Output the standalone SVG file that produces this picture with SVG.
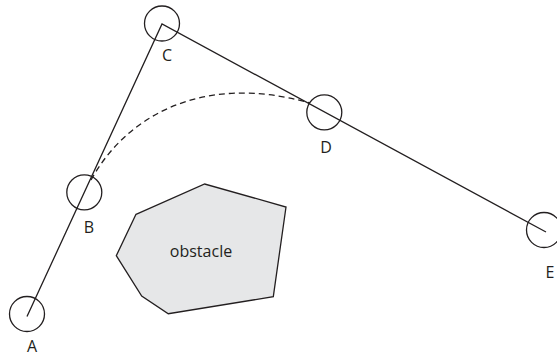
<svg xmlns="http://www.w3.org/2000/svg" width="557" height="356" viewBox="0 0 557 356">
  <style>
    .wp { fill: none; stroke: #231f20; stroke-width: 1.3; }
    .path { fill: none; stroke: #231f20; stroke-width: 1.3; }
    .dash { fill: none; stroke: #231f20; stroke-width: 1.3; stroke-dasharray: 6 4; }
    .lbl { font-family: "Open Sans", "Liberation Sans", sans-serif; font-size: 16px; fill: #231f20; text-anchor: middle; }
    .obs { fill: #e6e7e8; stroke: #231f20; stroke-width: 1.3; stroke-linejoin: miter; }
  </style>
  <rect width="557" height="356" fill="#ffffff"/>

  <g id="obstacle">
    <polygon class="obs" points="136,214.3 204.7,184 286,207 273.3,296.7 168.3,313.7 141.7,296 116.3,255.7"/>
    <text class="lbl" x="201" y="256.5">obstacle</text>
  </g>

  <g id="connectors">
    <polyline class="path" points="27,316.5 162,24 546,232"/>
    <path class="dash" d="M91,180 C125,118 200,72 310,103"/>
  </g>

  <g id="node-A">
    <circle class="wp" cx="27" cy="314" r="17.5"/>
    <text class="lbl" x="32" y="352">A</text>
  </g>
  <g id="node-B">
    <circle class="wp" cx="84.3" cy="192.3" r="17.5"/>
    <text class="lbl" x="89" y="233">B</text>
  </g>
  <g id="node-C">
    <circle class="wp" cx="162" cy="23.5" r="17.5"/>
    <text class="lbl" x="167" y="61">C</text>
  </g>
  <g id="node-D">
    <circle class="wp" cx="324.3" cy="112.3" r="17.5"/>
    <text class="lbl" x="326" y="152.5">D</text>
  </g>
  <g id="node-E">
    <circle class="wp" cx="544" cy="230" r="17.5"/>
    <text class="lbl" x="550" y="278">E</text>
  </g>
</svg>
